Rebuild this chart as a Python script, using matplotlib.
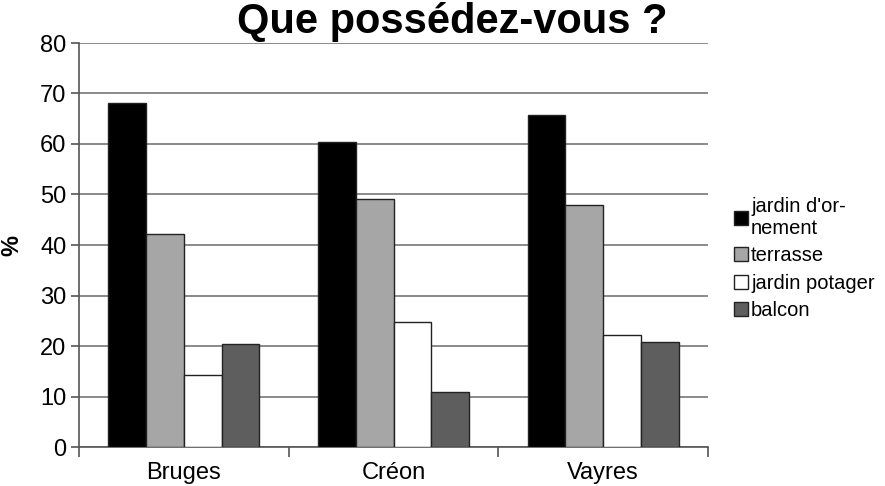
import numpy as np
import matplotlib.pyplot as plt
from matplotlib.patches import Patch

plt.rcParams["font.family"] = ["Liberation Sans", "DejaVu Sans"]

villes = ["Bruges", "Créon", "Vayres"]
series = ["jardin d'or-\nnement", "terrasse", "jardin potager", "balcon"]
jardin_ornement = [68.1, 60.3, 65.8]
terrasse = [42.1, 49.2, 48.0]
jardin_potager = [14.2, 24.8, 22.2]
balcon = [20.3, 10.9, 20.8]
colors = ["#000000", "#a6a6a6", "#ffffff", "#5e5e5e"]

fig = plt.figure(figsize=(8.85, 4.86), dpi=100)
ax = fig.add_axes([79 / 885, 39 / 486, 629 / 885, 404 / 486])

x = np.arange(len(villes))
w = 0.18
values = [jardin_ornement, terrasse, jardin_potager, balcon]
for i, vals in enumerate(values):
    ax.bar(x + (i - 1.5) * w, vals, width=w, color=colors[i],
           edgecolor="#222222", linewidth=1.0, zorder=3)

ax.set_xlim(-0.5, 2.5)
ax.set_ylim(0, 80)
ax.set_yticks(range(0, 81, 10))
ax.yaxis.grid(True, color="#777777", linewidth=1.2, zorder=0)
ax.set_xticks([-0.5, 0.5, 1.5, 2.5])
ax.set_xticklabels([])
ax.set_xticks(x, minor=True)
ax.set_xticklabels(villes, minor=True, fontsize=17)
ax.tick_params(axis="x", which="minor", length=0, pad=11)
ax.tick_params(axis="x", which="major", length=7, color="#555555", width=1.2)
ax.tick_params(axis="y", length=6, color="#555555", width=1.2, labelsize=17, pad=3)
for s in ["top", "right"]:
    ax.spines[s].set_visible(False)
for s in ["left", "bottom"]:
    ax.spines[s].set_color("#555555")
    ax.spines[s].set_linewidth(1.2)

ax.set_ylabel("%", fontsize=17, fontweight="bold", labelpad=12)
fig.text(452 / 885, 1 - 22 / 486, "Que possédez-vous ?", ha="center", va="center",
         fontsize=30, fontweight="bold")

handles = [Patch(facecolor=c, edgecolor="#222222", linewidth=1.0) for c in colors]
fig.legend(handles, series, loc="upper left", bbox_to_anchor=(734 / 885, 1 - 197 / 486),
           frameon=False, fontsize=14.5, handlelength=0.7, handleheight=0.7,
           handletextpad=0.15, labelspacing=0.42, borderpad=0, borderaxespad=0)

fig.savefig("out.png", dpi=100)
